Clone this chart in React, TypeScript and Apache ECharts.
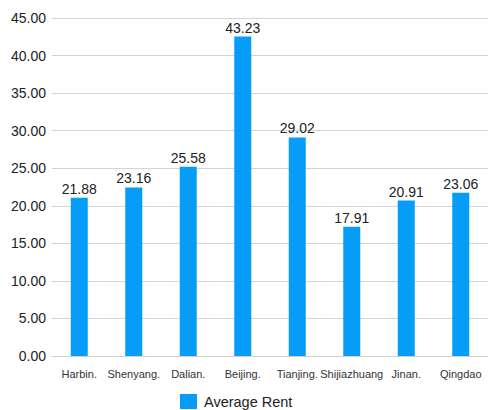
import React, { useEffect, useRef } from "react";
import * as echarts from "echarts";

const categories = ["Harbin.", "Shenyang.", "Dalian.", "Beijing.", "Tianjing.", "Shijiazhuang", "Jinan.", "Qingdao"];
const barValues = [21.07, 22.44, 25.2, 42.53, 29.1, 17.2, 20.7, 21.73];
const labelTexts = ["21.88", "23.16", "25.58", "43.23", "29.02", "17.91", "20.91", "23.06"];
const seriesName = "Average Rent";

export default function App() {
  const ref = useRef<HTMLDivElement>(null);
  useEffect(() => {
    if (!ref.current) return;
    const chart = echarts.init(ref.current, undefined, { renderer: "svg" });
    chart.setOption({
      animation: false,
      textStyle: { fontFamily: "Liberation Sans" },
      grid: { left: 52, right: -6, top: 18, bottom: 54, containLabel: false },
      legend: {
        data: [seriesName],
        top: 394,
        left: 180,
        padding: 0,
        icon: "rect",
        itemWidth: 17,
        itemHeight: 15,
        itemGap: 8,
        textStyle: { fontSize: 14.5, color: "#222", fontFamily: "Liberation Sans", padding: [0, 0, 0, 2] },
      },
      xAxis: {
        type: "category",
        data: categories,
        axisTick: { show: false },
        axisLine: { show: true, lineStyle: { color: "#d0d0d0", width: 1 } },
        axisLabel: { fontSize: 11, color: "#333", margin: 12, interval: 0, fontFamily: "Liberation Sans" },
      },
      yAxis: {
        type: "value",
        min: 0,
        max: 45,
        interval: 5,
        axisLine: { show: false },
        axisTick: { show: false },
        splitLine: { lineStyle: { color: "#d4d4d4", width: 1 } },
        axisLabel: {
          fontSize: 14,
          color: "#222",
          margin: 6,
          formatter: (v: number) => v.toFixed(2),
        },
      },
      series: [
        {
          name: seriesName,
          type: "bar",
          data: barValues,
          barWidth: 17,
          itemStyle: { color: "#069DF9" },
          label: {
            show: true,
            position: "top",
            distance: 2,
            fontSize: 14,
            color: "#222",
            formatter: (p: any) => labelTexts[p.dataIndex],
          },
        },
      ],
    });
    return () => chart.dispose();
  }, []);
  return <div ref={ref} style={{ width: 488, height: 410, position: "absolute", left: 0, top: 0 }} />;
}
